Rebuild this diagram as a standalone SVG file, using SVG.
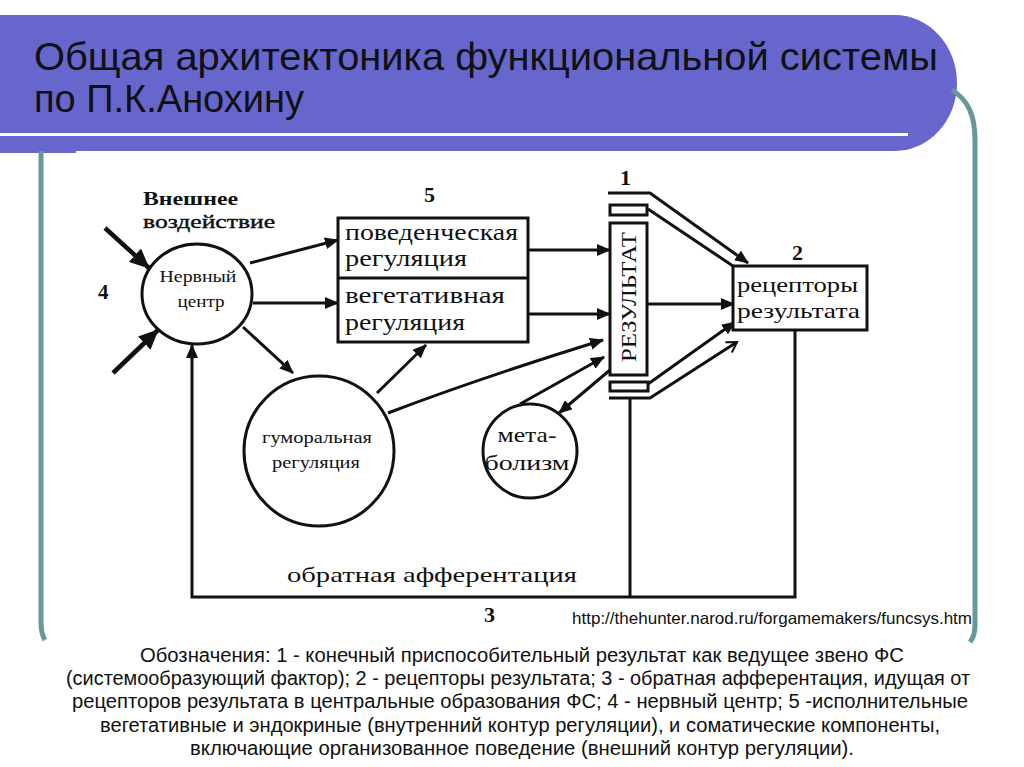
<svg xmlns="http://www.w3.org/2000/svg" width="1024" height="767" viewBox="0 0 1024 767">
<style>
.ser{font-family:"Liberation Serif","Times New Roman",serif;fill:#111}
.san{font-family:"Liberation Sans",Arial,sans-serif;fill:#111}
.ln{stroke:#111;stroke-width:3;fill:none}
.thick{stroke:#111;stroke-width:4.5;fill:none}
.box{stroke:#111;stroke-width:3;fill:#fff}
.teal{stroke:#669999;stroke-width:5;fill:none}
</style>
<defs>
<marker id="ah" markerUnits="userSpaceOnUse" markerWidth="14" markerHeight="12" refX="13" refY="6" orient="auto"><path d="M0,0 L14,6 L0,12 z" fill="#111"/></marker>
<marker id="ahBig" markerUnits="userSpaceOnUse" markerWidth="20" markerHeight="18" refX="19" refY="9" orient="auto"><path d="M0,0 L20,9 L0,18 z" fill="#111"/></marker>
<marker id="ahOpen" markerUnits="userSpaceOnUse" markerWidth="14" markerHeight="14" refX="12" refY="7" orient="auto"><path d="M2,1 L12,7 L2,13" fill="none" stroke="#111" stroke-width="2"/></marker>
</defs>
<rect width="1024" height="767" fill="#fff"/>
<g id="banner">
<path d="M0,15 H895 A62,68 0 0 1 895,151 H0 Z" fill="#6666cc"/>
<rect x="0" y="148" width="76" height="5" fill="#6666cc"/>
<rect x="0" y="133" width="908" height="3" fill="#fff"/>
<path class="teal" d="M952,90 C968,100 975,115 975,140 L975,625 Q975,636 970,642"/>
<path class="teal" d="M41,151 L41,622 Q41,634 45,640"/>
<text class="san" x="34" y="70" font-size="39" textLength="904" lengthAdjust="spacingAndGlyphs">Общая архитектоника функциональной системы</text>
<text class="san" x="34" y="112" font-size="39" textLength="270" lengthAdjust="spacingAndGlyphs">по П.К.Анохину</text>
</g>
<g id="connectors">
<line class="thick" x1="105" y1="228" x2="149" y2="268" marker-end="url(#ahBig)"/>
<line class="thick" x1="113" y1="373" x2="158" y2="330" marker-end="url(#ahBig)"/>
<line class="ln" x1="250" y1="263" x2="338" y2="240" marker-end="url(#ah)"/>
<line class="ln" x1="253" y1="303" x2="338" y2="303" marker-end="url(#ah)"/>
<line class="ln" x1="243" y1="327" x2="293" y2="373" marker-end="url(#ah)"/>
<line class="ln" x1="377" y1="393" x2="426" y2="345" marker-end="url(#ah)"/>
<path class="ln" d="M388,413 Q480,378 603,340" marker-end="url(#ah)"/>
<line class="ln" x1="520" y1="404" x2="604" y2="357" marker-end="url(#ah)"/>
<line class="ln" x1="610" y1="370" x2="559" y2="413" marker-end="url(#ah)"/>
<line class="ln" x1="528" y1="250" x2="610" y2="250" marker-end="url(#ah)"/>
<line class="ln" x1="528" y1="314" x2="610" y2="314" marker-end="url(#ah)"/>
<line class="ln" x1="647" y1="304" x2="734" y2="304" marker-end="url(#ah)"/>
<polyline class="ln" points="608,193 650,193 748,263" marker-end="url(#ah)"/>
<line class="ln" x1="648" y1="209" x2="733" y2="266"/>
<line class="ln" x1="648" y1="384" x2="735" y2="322" marker-end="url(#ah)"/>
<polyline class="ln" points="609,398 650,398 737,342" marker-end="url(#ahOpen)"/>
<line class="ln" x1="630" y1="398" x2="630" y2="597"/>
<polyline class="ln" points="795,330 795,597 192,597 192,345" marker-end="url(#ah)"/>
</g>
<g id="external">
<text class="ser" x="143" y="205" font-size="18" font-weight="bold" textLength="95" lengthAdjust="spacingAndGlyphs">Внешнее</text>
<text class="ser" x="143" y="228" font-size="18" stroke="#111" stroke-width="0.4" textLength="132" lengthAdjust="spacingAndGlyphs">воздействие</text>
</g>
<g id="label4"><text class="ser" x="98" y="299" font-size="21" font-weight="bold">4</text></g>
<g id="nerve-center">
<ellipse class="box" cx="197" cy="294" rx="55" ry="50"/>
<text class="ser" x="198" y="282" font-size="16" text-anchor="middle" textLength="77" lengthAdjust="spacingAndGlyphs">Нервный</text>
<text class="ser" x="201" y="307" font-size="16" text-anchor="middle" textLength="47" lengthAdjust="spacingAndGlyphs">центр</text>
</g>
<g id="label5"><text class="ser" x="424" y="202" font-size="22" font-weight="bold">5</text></g>
<g id="executive">
<rect class="box" x="338" y="218" width="190" height="124"/>
<line class="ln" x1="338" y1="278" x2="528" y2="278"/>
<text class="ser" x="345" y="240" font-size="23" textLength="173" lengthAdjust="spacingAndGlyphs">поведенческая</text>
<text class="ser" x="345" y="266" font-size="23" textLength="122" lengthAdjust="spacingAndGlyphs">регуляция</text>
<text class="ser" x="345" y="303" font-size="23" textLength="160" lengthAdjust="spacingAndGlyphs">вегетативная</text>
<text class="ser" x="345" y="330" font-size="23" textLength="120" lengthAdjust="spacingAndGlyphs">регуляция</text>
</g>
<g id="label1"><text class="ser" x="620" y="185" font-size="22" font-weight="bold">1</text></g>
<g id="result">
<rect class="box" x="610" y="205" width="37" height="10"/>
<rect class="box" x="610" y="223" width="37" height="152"/>
<rect class="box" x="610" y="382" width="38" height="9"/>
<text class="ser" transform="translate(636,297) rotate(-90)" x="0" y="0" font-size="21" text-anchor="middle" textLength="130" lengthAdjust="spacingAndGlyphs">РЕЗУЛЬТАТ</text>
</g>
<g id="label2"><text class="ser" x="792" y="260" font-size="22" font-weight="bold">2</text></g>
<g id="receptors">
<rect class="box" x="733" y="266" width="134" height="64"/>
<text class="ser" x="737" y="292" font-size="22" textLength="121" lengthAdjust="spacingAndGlyphs">рецепторы</text>
<text class="ser" x="737" y="318" font-size="22" textLength="123" lengthAdjust="spacingAndGlyphs">результата</text>
</g>
<g id="humoral">
<circle class="box" cx="319" cy="451" r="75"/>
<text class="ser" x="317" y="443" font-size="16" text-anchor="middle" textLength="110" lengthAdjust="spacingAndGlyphs">гуморальная</text>
<text class="ser" x="316" y="468" font-size="16" text-anchor="middle" textLength="88" lengthAdjust="spacingAndGlyphs">регуляция</text>
</g>
<g id="metabolism">
<circle class="box" cx="530" cy="451" r="47"/>
<text class="ser" x="527" y="442" font-size="22" text-anchor="middle" textLength="59" lengthAdjust="spacingAndGlyphs">мета-</text>
<text class="ser" x="527" y="470" font-size="22" text-anchor="middle" textLength="85" lengthAdjust="spacingAndGlyphs">болизм</text>
</g>
<g id="feedback">
<text class="ser" x="287" y="582" font-size="22" textLength="290" lengthAdjust="spacingAndGlyphs">обратная афферентация</text>
<text class="ser" x="484" y="622" font-size="22" font-weight="bold">3</text>
</g>
<g id="source">
<text class="san" x="572" y="624" font-size="16.5" textLength="400" lengthAdjust="spacingAndGlyphs">http://thehunter.narod.ru/forgamemakers/funcsys.htm</text>
</g>
<g id="legend" font-size="20">
<text class="san" x="522" y="662" text-anchor="middle" textLength="764" lengthAdjust="spacingAndGlyphs">Обозначения: 1 - конечный приспособительный результат как ведущее звено ФС</text>
<text class="san" x="518" y="685" text-anchor="middle" textLength="904" lengthAdjust="spacingAndGlyphs">(системообразующий фактор); 2 - рецепторы результата; 3 - обратная афферентация, идущая от</text>
<text class="san" x="520" y="708" text-anchor="middle" textLength="896" lengthAdjust="spacingAndGlyphs">рецепторов результата в центральные образования ФС;  4 - нервный центр; 5 -исполнительные</text>
<text class="san" x="520" y="732" text-anchor="middle" textLength="840" lengthAdjust="spacingAndGlyphs">вегетативные и эндокриные (внутренний контур регуляции), и соматические компоненты,</text>
<text class="san" x="522" y="755" text-anchor="middle" textLength="664" lengthAdjust="spacingAndGlyphs">включающие организованное поведение (внешний контур регуляции).</text>
</g>
</svg>
